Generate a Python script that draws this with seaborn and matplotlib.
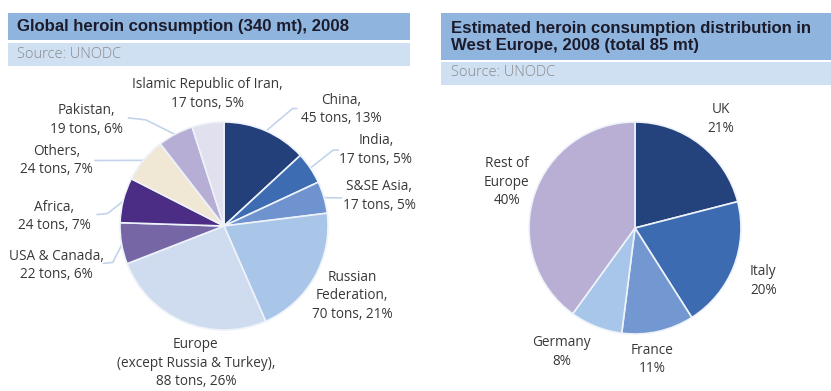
import matplotlib
matplotlib.use("Agg")
import matplotlib.pyplot as plt
from matplotlib.patches import Rectangle
import numpy as np
import seaborn as sns

# Global consumption, tons (clockwise from 12 o'clock)
global_regions = ["China", "India", "S&SE Asia", "Russian\nFederation",
                  "Europe\n(except Russia & Turkey)", "USA & Canada", "Africa",
                  "Others", "Pakistan", "Islamic Republic of Iran"]
global_tons = [45, 17, 17, 70, 88, 22, 24, 24, 19, 17]
global_pct = [13, 5, 5, 21, 26, 6, 7, 7, 6, 5]
global_colors = ["#23407a", "#3d6cb3", "#6f93cf", "#a9c5e7", "#cfdcf0",
                 "#7666a6", "#4b2d86", "#f0e8d5", "#b7aed6", "#e1e0ee"]

# West Europe distribution, percent
west_countries = ["UK", "Italy", "France", "Germany", "Rest of\nEurope"]
west_pct = [21, 20, 11, 8, 40]
west_colors = ["#24427c", "#3c6bb2", "#7398d1", "#a8c6e9", "#b9aed3"]

sns.set_theme(style="white")
plt.rcParams["font.family"] = ["Open Sans", "DejaVu Sans"]

W, H = 831, 391
fig = plt.figure(figsize=(W / 100, H / 100), dpi=100)
fig.patch.set_facecolor("white")


def px_box(x0, y0, x1, y1):
    """Figure-fraction rectangle from pixel corners (origin top-left)."""
    return [x0 / W, 1 - y1 / H, (x1 - x0) / W, (y1 - y0) / H]


def bar(x0, y0, x1, y1, color):
    l, b, w, h = px_box(x0, y0, x1, y1)
    fig.patches.append(Rectangle((l, b), w, h, transform=fig.transFigure,
                                 facecolor=color, edgecolor="none", zorder=0))


title_kw = dict(family=["Liberation Sans", "DejaVu Sans"], fontweight="bold",
                fontsize=12.1, color="#1b1b2b", va="center", ha="left")
source_kw = dict(fontsize=10.5, fontweight="light", color="#8a8a8a",
                 va="center", ha="left")

# Header bars
bar(8, 13, 410, 40, "#8fb5df")
bar(8, 43, 410, 66, "#cfe0f3")
fig.text(17 / W, 1 - 27 / H, "Global heroin consumption (340 mt), 2008", **title_kw)
fig.text(17 / W, 1 - 55 / H, "Source: UNODC", **source_kw)

bar(441, 13, 831, 60, "#8fb5df")
bar(441, 62, 831, 85, "#cfe0f3")
fig.text(451 / W, 1 - 37 / H,
         "Estimated heroin consumption distribution in\nWest Europe, 2008 (total 85 mt)",
         linespacing=1.1, **title_kw)
fig.text(451 / W, 1 - 73 / H, "Source: UNODC", **source_kw)

label_kw = dict(fontsize=9.8, color="#383838", ha="center", va="center",
                linespacing=1.32)
line_color = "#c3d4ea"

# ---- Global pie ----
cx, cy, r = 224, 226, 104
ax1 = fig.add_axes(px_box(cx - r, cy - r, cx + r, cy + r))
wedges, _ = ax1.pie(global_tons, colors=global_colors, startangle=90,
                    counterclock=False, radius=1,
                    wedgeprops=dict(edgecolor="#eef3fa", linewidth=1.2))
ax1.set_xlim(-1, 1)
ax1.set_ylim(-1, 1)
ax1.axis("off")

global_text_pos = [(1.13, 1.12), (1.46, 0.73), (1.49, 0.29), (1.23, -0.67),
                   (-0.27, -1.32), (-1.61, -0.38), (-1.63, 0.09),
                   (-1.61, 0.63), (-1.32, 1.02), (-0.16, 1.27)]
# Leader line start/elbow points near each label (None = no leader)
global_leaders = [[(0.70, 1.13), (0.66, 1.13)],
                  [(1.10, 0.73), (1.05, 0.73)],
                  [(1.13, 0.27)],
                  None, None,
                  [(-1.16, -0.36), (-1.07, -0.35)],
                  [(-1.22, 0.11), (-1.12, 0.12)],
                  [(-1.24, 0.63)],
                  [(-0.92, 1.04), (-0.75, 1.02)],
                  None]

for w, name, t, p, pos, lead in zip(wedges, global_regions, global_tons,
                                    global_pct, global_text_pos, global_leaders):
    ax1.text(pos[0], pos[1], f"{name},\n{t} tons, {p}%", **label_kw)
    if lead:
        mid = np.deg2rad((w.theta1 + w.theta2) / 2)
        pts = lead + [(np.cos(mid) * 0.99, np.sin(mid) * 0.99)]
        xs, ys = zip(*pts)
        ax1.plot(xs, ys, color=line_color, lw=1.2, clip_on=False, zorder=0)

# ---- West Europe pie ----
cx2, cy2, r2 = 635, 228, 106
ax2 = fig.add_axes(px_box(cx2 - r2, cy2 - r2, cx2 + r2, cy2 + r2))
ax2.pie(west_pct, colors=west_colors, startangle=90, counterclock=False,
        radius=1, wedgeprops=dict(edgecolor="#eef3fa", linewidth=1.2))
ax2.set_xlim(-1, 1)
ax2.set_ylim(-1, 1)
ax2.axis("off")

west_text_pos = [(0.81, 1.03), (1.21, -0.50), (0.16, -1.24), (-0.69, -1.17),
                 (-1.21, 0.43)]
for name, p, pos in zip(west_countries, west_pct, west_text_pos):
    ax2.text(pos[0], pos[1], f"{name}\n{p}%", **label_kw)

fig.savefig("out.png", dpi=100, facecolor="white")
